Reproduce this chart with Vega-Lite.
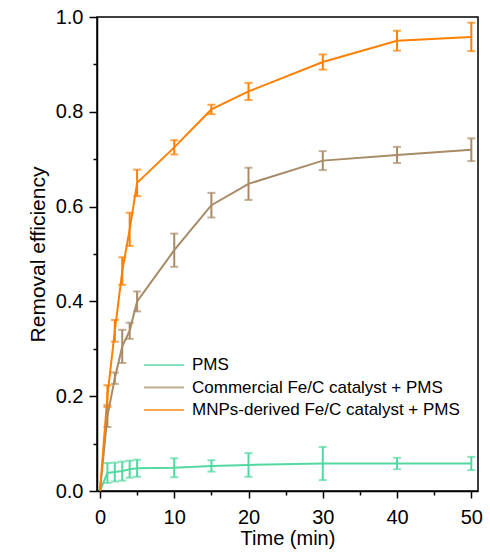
{
  "$schema": "https://vega.github.io/schema/vega-lite/v6.json",
  "width": 381,
  "height": 474,
  "autosize": {"type": "none"},
  "padding": {"left": 97, "top": 17, "right": 12, "bottom": 64},
  "background": "white",
  "config": {
    "view": {"stroke": "black", "strokeWidth": 1.5},
    "font": "Liberation Sans",
    "axis": {
      "domainColor": "black", "domainWidth": 1.5, "tickColor": "black", "tickWidth": 1.5,
      "labelColor": "black", "titleColor": "black", "grid": false,
      "labelFont": "Liberation Sans", "titleFont": "Liberation Sans",
      "labelFontSize": 20, "titleFontSize": 20, "titleFontWeight": "normal"
    }
  },
  "datasets": {
    "d": [
      {"series": "PMS", "t": 0, "v": 0, "lo": null, "hi": null},
      {"series": "PMS", "t": 1, "v": 0.038, "lo": 0.017, "hi": 0.059},
      {"series": "PMS", "t": 2, "v": 0.040, "lo": 0.020, "hi": 0.060},
      {"series": "PMS", "t": 3, "v": 0.042, "lo": 0.022, "hi": 0.062},
      {"series": "PMS", "t": 4, "v": 0.046, "lo": 0.028, "hi": 0.064},
      {"series": "PMS", "t": 5, "v": 0.048, "lo": 0.030, "hi": 0.066},
      {"series": "PMS", "t": 10, "v": 0.049, "lo": 0.029, "hi": 0.069},
      {"series": "PMS", "t": 15, "v": 0.053, "lo": 0.041, "hi": 0.065},
      {"series": "PMS", "t": 20, "v": 0.055, "lo": 0.030, "hi": 0.080},
      {"series": "PMS", "t": 30, "v": 0.058, "lo": 0.023, "hi": 0.093},
      {"series": "PMS", "t": 40, "v": 0.058, "lo": 0.046, "hi": 0.070},
      {"series": "PMS", "t": 50, "v": 0.058, "lo": 0.044, "hi": 0.072},
      {"series": "Commercial Fe/C catalyst + PMS", "t": 0, "v": 0, "lo": null, "hi": null},
      {"series": "Commercial Fe/C catalyst + PMS", "t": 1, "v": 0.158, "lo": 0.135, "hi": 0.181},
      {"series": "Commercial Fe/C catalyst + PMS", "t": 2, "v": 0.238, "lo": 0.226, "hi": 0.250},
      {"series": "Commercial Fe/C catalyst + PMS", "t": 3, "v": 0.305, "lo": 0.270, "hi": 0.340},
      {"series": "Commercial Fe/C catalyst + PMS", "t": 4, "v": 0.338, "lo": 0.321, "hi": 0.355},
      {"series": "Commercial Fe/C catalyst + PMS", "t": 5, "v": 0.400, "lo": 0.379, "hi": 0.421},
      {"series": "Commercial Fe/C catalyst + PMS", "t": 10, "v": 0.508, "lo": 0.473, "hi": 0.543},
      {"series": "Commercial Fe/C catalyst + PMS", "t": 15, "v": 0.603, "lo": 0.577, "hi": 0.629},
      {"series": "Commercial Fe/C catalyst + PMS", "t": 20, "v": 0.648, "lo": 0.614, "hi": 0.682},
      {"series": "Commercial Fe/C catalyst + PMS", "t": 30, "v": 0.697, "lo": 0.677, "hi": 0.717},
      {"series": "Commercial Fe/C catalyst + PMS", "t": 40, "v": 0.709, "lo": 0.692, "hi": 0.726},
      {"series": "Commercial Fe/C catalyst + PMS", "t": 50, "v": 0.720, "lo": 0.696, "hi": 0.744},
      {"series": "MNPs-derived Fe/C catalyst + PMS", "t": 0, "v": 0, "lo": null, "hi": null},
      {"series": "MNPs-derived Fe/C catalyst + PMS", "t": 1, "v": 0.200, "lo": 0.177, "hi": 0.223},
      {"series": "MNPs-derived Fe/C catalyst + PMS", "t": 2, "v": 0.338, "lo": 0.315, "hi": 0.361},
      {"series": "MNPs-derived Fe/C catalyst + PMS", "t": 3, "v": 0.464, "lo": 0.435, "hi": 0.493},
      {"series": "MNPs-derived Fe/C catalyst + PMS", "t": 4, "v": 0.552, "lo": 0.517, "hi": 0.587},
      {"series": "MNPs-derived Fe/C catalyst + PMS", "t": 5, "v": 0.650, "lo": 0.622, "hi": 0.678},
      {"series": "MNPs-derived Fe/C catalyst + PMS", "t": 10, "v": 0.725, "lo": 0.710, "hi": 0.740},
      {"series": "MNPs-derived Fe/C catalyst + PMS", "t": 15, "v": 0.805, "lo": 0.795, "hi": 0.815},
      {"series": "MNPs-derived Fe/C catalyst + PMS", "t": 20, "v": 0.843, "lo": 0.825, "hi": 0.861},
      {"series": "MNPs-derived Fe/C catalyst + PMS", "t": 30, "v": 0.905, "lo": 0.889, "hi": 0.921},
      {"series": "MNPs-derived Fe/C catalyst + PMS", "t": 40, "v": 0.950, "lo": 0.929, "hi": 0.971},
      {"series": "MNPs-derived Fe/C catalyst + PMS", "t": 50, "v": 0.958, "lo": 0.928, "hi": 0.988}
    ]
  },
  "data": {"name": "d"},
  "resolve": {"axis": {"x": "independent", "y": "independent"}},
  "encoding": {
    "color": {
      "field": "series", "type": "nominal",
      "scale": {
        "domain": ["PMS", "Commercial Fe/C catalyst + PMS", "MNPs-derived Fe/C catalyst + PMS"],
        "range": ["#52d8a0", "#a88b66", "#ff8000"]
      },
      "legend": {
        "title": null, "orient": "none", "legendX": 56, "legendY": 337,
        "symbolType": "M-2,0H2", "symbolSize": 400, "symbolStrokeWidth": 2,
        "labelFont": "Liberation Sans", "labelFontSize": 17, "labelColor": "black",
        "labelOffset": 17, "rowPadding": 3.5, "labelLimit": 400
      }
    }
  },
  "layer": [
    {
      "mark": {"type": "line", "strokeWidth": 2},
      "encoding": {
        "x": {
          "field": "t", "type": "quantitative",
          "scale": {"domain": [-0.4, 50.9], "nice": false, "zero": false},
          "axis": {"title": "Time (min)", "orient": "bottom", "values": [0, 10, 20, 30, 40, 50], "tickSize": 7, "labelPadding": 9, "titlePadding": 1}
        },
        "y": {
          "field": "v", "type": "quantitative",
          "scale": {"domain": [0, 1], "nice": false},
          "axis": {"title": "Removal efficiency", "orient": "left", "values": [0, 0.2, 0.4, 0.6, 0.8, 1.0], "format": ".1f", "tickSize": 8, "labelPadding": 6, "titlePadding": 7, "titleFontSize": 21}
        }
      }
    },
    {
      "transform": [{"filter": "datum.lo != null"}],
      "mark": {"type": "errorbar", "ticks": {"size": 8, "thickness": 2}, "rule": {"strokeWidth": 2}},
      "encoding": {
        "x": {"field": "t", "type": "quantitative",
          "axis": {"title": null, "orient": "bottom", "values": [5, 15, 25, 35, 45], "labels": false, "domain": false, "tickSize": 4}},
        "y": {"field": "lo", "type": "quantitative",
          "axis": {"title": null, "orient": "left", "values": [0.1, 0.3, 0.5, 0.7, 0.9], "labels": false, "domain": false, "tickSize": 4}},
        "y2": {"field": "hi"}
      }
    }
  ]
}
